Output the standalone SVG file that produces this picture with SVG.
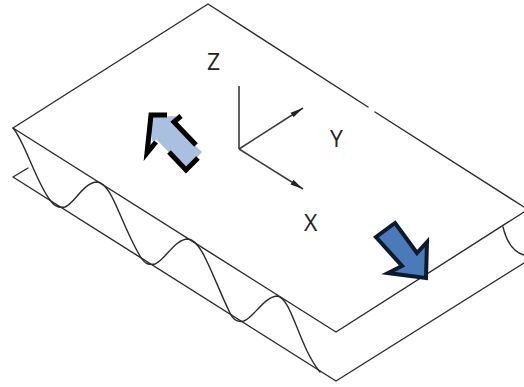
<svg xmlns="http://www.w3.org/2000/svg" width="524" height="387" viewBox="0 0 524 387">
<style>
.l{fill:none;stroke:#2b2b2b;stroke-width:1.4;stroke-linecap:round;stroke-linejoin:round}
.a{fill:none;stroke:#3a3a3a;stroke-width:1.6}
.t{font-family:"Open Sans","Liberation Sans",sans-serif;font-size:23px;fill:#222}
.k{fill:none;stroke:#000;stroke-width:5;stroke-linejoin:miter}
</style>
<defs>
<marker id="ah" markerWidth="14" markerHeight="8" refX="13" refY="4" orient="auto" markerUnits="userSpaceOnUse"><path d="M0,1.200 L13,4 L0,6.800 Z" fill="#222"/></marker>
</defs>
<rect width="524" height="387" fill="#fff"/>
<g id="connectors">
<path class="a" d="M239,86 V149"/>
<path class="a" d="M239,149 L303,108" marker-end="url(#ah)"/>
<path class="a" d="M239,149 L303,189" marker-end="url(#ah)"/>
</g>
<g id="plate-top">
<path class="l" d="M368,107 L208,4 L13,128 L336,332 L524,212"/>
<path class="l" d="M375,112 L524,207"/>
</g>
<g id="plate-bottom">
<path class="l" d="M28,168 L13,177 L336,381 L524,263"/>
</g>
<g id="wave">
<path class="l" d="M13,128 C25,142 36,182 50,200 C54,206 60,208 65,207 C74,204 84,182 97,182 C112,183 120,222 140,256 C145,265 150,265 155,264 C165,260 175,239 188,239 C202,240 212,276 230,313 C234,322 240,322 244,321 C254,317 264,297 277,296 C292,298 298,345 320,372"/>
<path class="l" d="M503,227 C507,243 513,252 524,255"/>
</g>
<g id="arrow-light">
<path d="M150,117 L176,116 L172,123 L202,152 L186,170 L157,140 L152,141 Z" fill="#a9c0de"/>
<path class="k" d="M167,115 H151 L147,153 L156,142"/>
<path class="k" d="M181,116 L174,122 L196,145"/>
<path class="k" d="M169,152 L186,170 L198,158"/>
</g>
<g id="arrow-dark">
<path d="M395,223 L417,253 L427,242 L426,278 L388,273 L402,266 L376,237 Z" fill="#4a7ab8" stroke="#0d1a2b" stroke-width="4" stroke-linejoin="miter"/>
</g>
<g id="label-z"><text class="t" x="207" y="70">Z</text></g>
<g id="label-y"><text class="t" x="330" y="147">Y</text></g>
<g id="label-x"><text class="t" x="304" y="231">X</text></g>
</svg>
